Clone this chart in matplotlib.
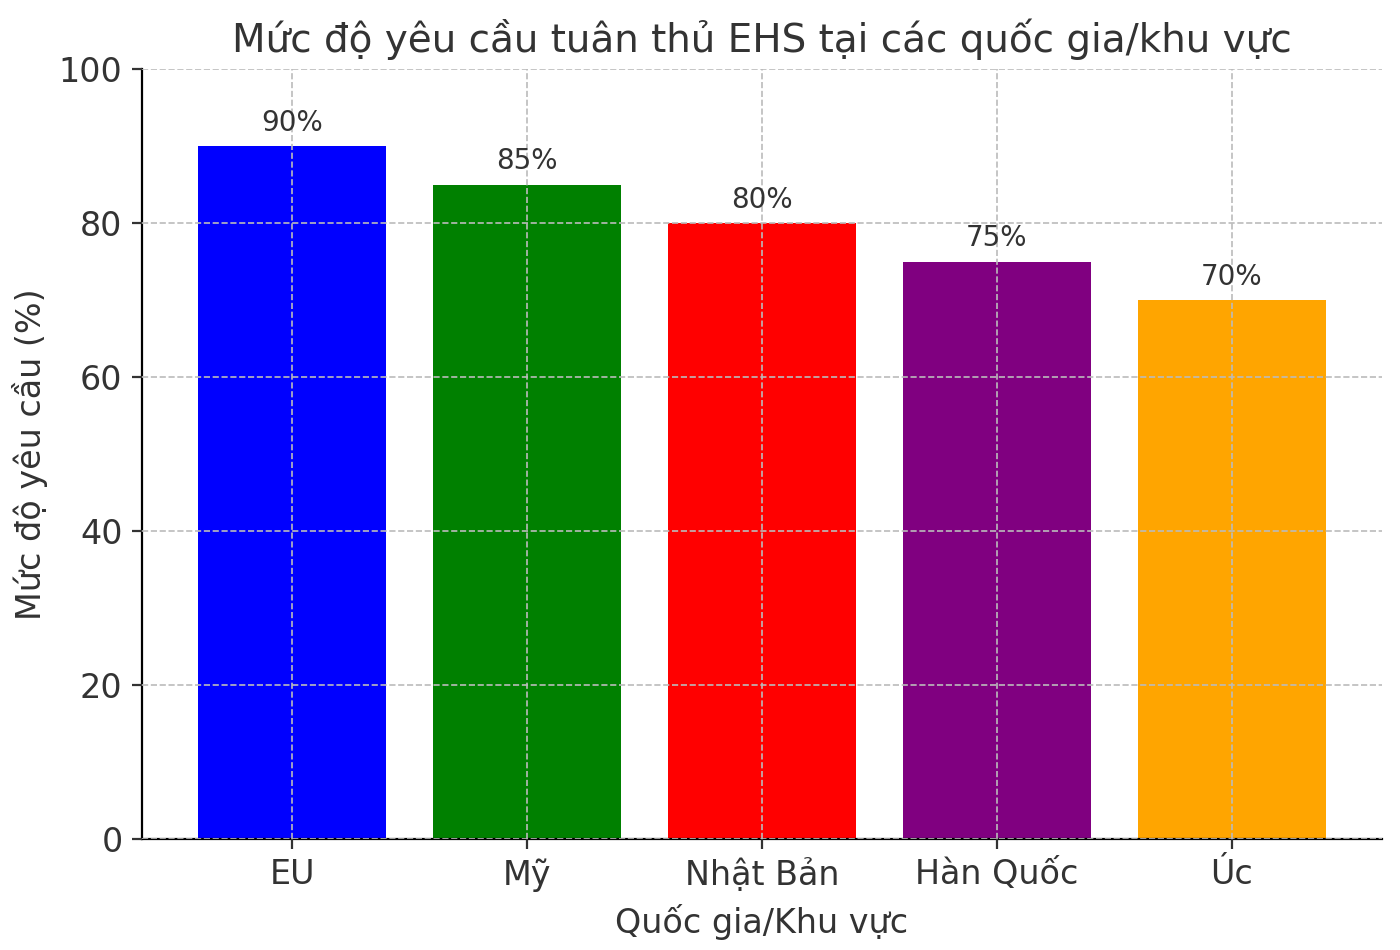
import matplotlib
matplotlib.use("Agg")
import matplotlib.pyplot as plt

categories = ["EU", "Mỹ", "Nhật Bản", "Hàn Quốc", "Úc"]
values = [90, 85, 80, 75, 70]
colors = ["blue", "green", "red", "purple", "orange"]

fig = plt.figure(figsize=(7, 4.75), dpi=200)
ax = fig.add_axes([142/1400, 1-839/950, (1382-142)/1400, (839-69)/950])
bars = ax.bar(categories, values, color=colors, width=0.8)
for b, v in zip(bars, values):
    ax.text(b.get_x()+b.get_width()/2, v+1.2, f"{v}%", ha="center", va="bottom",
            fontsize=10, color="#333333")
ax.set_ylim(0, 100)
ax.set_title("Mức độ yêu cầu tuân thủ EHS tại các quốc gia/khu vực", fontsize=14, color="#333333")
ax.set_xlabel("Quốc gia/Khu vực", fontsize=12, color="#333333")
ax.set_ylabel("Mức độ yêu cầu (%)", fontsize=12, color="#333333")
ax.tick_params(labelsize=12, colors="#333333")
ax.grid(True, linestyle="--", color="#bbbbbb", linewidth=0.6)
ax.set_axisbelow(False)
for s in ["top", "right"]:
    ax.spines[s].set_visible(False)
fig.savefig("out.png", dpi=200)
